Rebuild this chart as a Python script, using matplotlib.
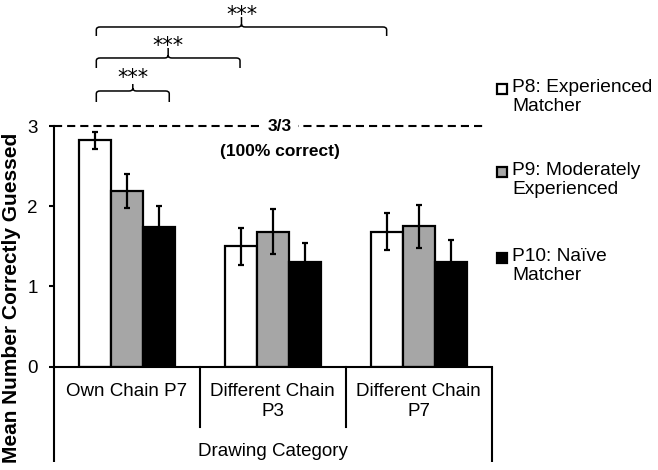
import matplotlib
matplotlib.use("Agg")
import matplotlib.pyplot as plt
import numpy as np
from matplotlib.patches import Rectangle, PathPatch
from matplotlib.path import Path
from matplotlib.transforms import blended_transform_factory

plt.rcParams['font.family'] = ['Liberation Sans', 'DejaVu Sans']

categories = ["Own Chain P7", "Different Chain\nP3", "Different Chain\nP7"]
series_labels = ["P8: Experienced\nMatcher", "P9: Moderately\nExperienced", "P10: Naïve\nMatcher"]
series_colors = ["white", "#a6a6a6", "black"]
means = [
    [2.82, 1.50, 1.68],   # P8
    [2.19, 1.68, 1.75],   # P9
    [1.74, 1.30, 1.30],   # P10
]
errors = [
    [0.11, 0.23, 0.23],
    [0.21, 0.28, 0.27],
    [0.26, 0.24, 0.28],
]
yticks = [0, 1, 2, 3]
ceiling = 3
# significance brackets: (x start, x end, label)
brackets = [
    (-0.21, 0.29, "***"),
    (-0.21, 0.775, "***"),
    (-0.21, 1.78, "***"),
]

W, H = 658, 470
Y0, PPU = 366.7, 80.23   # pixel row of y=0, pixels per unit


def py2d(py):
    return (Y0 - py) / PPU


fig = plt.figure(figsize=(W / 100, H / 100), dpi=100)
ax = fig.add_axes([54 / W, 1 - Y0 / H, 437.7 / W, 240.7 / H])

x = np.arange(len(categories))
bw = 0.22
for i, (m, e, c) in enumerate(zip(means, errors, series_colors)):
    ax.bar(x + (i - 1) * bw, m, width=bw, color=c, edgecolor="black", linewidth=1.6, zorder=2)
    ax.errorbar(x + (i - 1) * bw, m, yerr=e, fmt="none", ecolor="black", elinewidth=1.6,
                capsize=2, capthick=1.6, zorder=3, clip_on=False)

ax.set_xlim(-0.5, 2.5)
ax.set_ylim(0, 3)
ax.set_yticks(yticks)
ax.tick_params(axis="y", direction="out", length=3.6, width=1.5, pad=8, labelsize=13.5)
ax.set_xticks(x)
ax.set_xticklabels(categories, fontsize=13.5, linespacing=1.2)
ax.tick_params(axis="x", length=0, pad=12)
for s in ["top", "right"]:
    ax.spines[s].set_visible(False)
for s in ["left", "bottom"]:
    ax.spines[s].set_linewidth(1.5)

# ceiling dashed line
ax.plot([-0.5, 2.45], [ceiling, ceiling], color="black", lw=1.5, dashes=(3.9, 2.4), zorder=1,
        clip_on=False)
xc = (280 - 54) / 145.9 - 0.5
ax.text(xc, 3.0, "3/3", ha="center", va="center", fontsize=12.5,
        fontweight="bold", bbox=dict(facecolor="white", edgecolor="none", pad=4), zorder=4)
ax.text(xc, py2d(152), "(100% correct)", ha="center", va="center",
        fontsize=12.5, fontweight="bold", zorder=4)

# category dividers
tr = blended_transform_factory(ax.transData, ax.transAxes)
for xd in [0.5, 1.5]:
    ax.plot([xd, xd], [0, -0.25], color="black", lw=1.5, transform=tr, clip_on=False)
for xd in [-0.5, 2.5]:
    ax.plot([xd, xd], [0, -0.397], color="black", lw=1.5, transform=tr, clip_on=False,
            solid_capstyle="butt")

fig.text(272.5 / W, 1 - 452 / H, "Drawing Category", ha="center", va="center", fontsize=13.5)
fig.text(12 / W, 1 - 298 / H, "Mean Number Correctly Guessed", ha="center", va="center",
         rotation=90, fontsize=15, fontweight="bold")

# brackets: pixel rows of (line, end hooks, centre tick, star centre)
levels_px = [(91, 102, 84, 73), (58, 68, 48, 41), (27, 36, 17, 10)]
for (x0, x1, lab), (pl, pb, pt, ps) in zip(brackets, levels_px):
    yl, yb, yt = py2d(pl), py2d(pb), py2d(pt)
    xm = (x0 + x1) / 2
    d = 0.025
    dy = 0.035
    verts = [(x0, yb), (x0, yl - dy), (x0, yl), (x0 + d, yl),
             (xm - d, yl), (xm, yl), (xm, yl + dy), (xm, yt),
             (xm, yl + dy), (xm, yl), (xm + d, yl),
             (x1 - d, yl), (x1, yl), (x1, yl - dy), (x1, yb)]
    codes = [Path.MOVETO, Path.LINETO, Path.CURVE3, Path.CURVE3,
             Path.LINETO, Path.CURVE3, Path.CURVE3, Path.LINETO,
             Path.MOVETO, Path.CURVE3, Path.CURVE3,
             Path.LINETO, Path.CURVE3, Path.CURVE3, Path.LINETO]
    ax.add_patch(PathPatch(Path(verts, codes), facecolor="none", edgecolor="black", lw=1.1,
                           clip_on=False))
    ax.text(xm, py2d(ps + 11), lab, ha="center", va="baseline", fontsize=15,
            family="DejaVu Sans", clip_on=False)

# legend
leg_y = [89, 172, 258]
for lab, c, py in zip(series_labels, series_colors, leg_y):
    fig.patches.append(Rectangle((497.5 / W, 1 - (py + 5) / H), 10 / W, 10 / H,
                                 transform=fig.transFigure, facecolor=c, edgecolor="black",
                                 lw=1.6))
    fig.text(512 / W, 1 - (py - 10) / H, lab, ha="left", va="top", fontsize=13.8,
             linespacing=1.15)

fig.savefig("out.png", dpi=100)
